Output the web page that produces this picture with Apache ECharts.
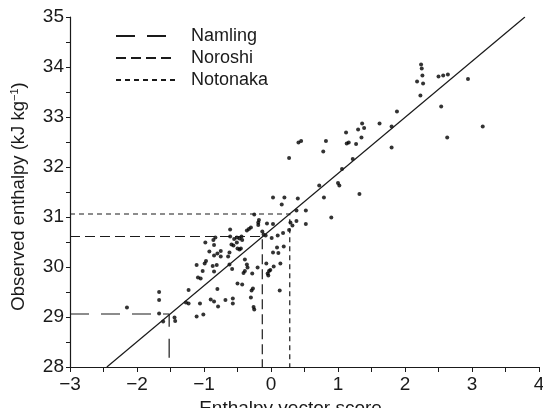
<!DOCTYPE html>
<html><head><meta charset="utf-8">
<script src="https://cdn.jsdelivr.net/npm/echarts@6/dist/echarts.min.js"></script>
<style>html,body{margin:0;padding:0;background:#fff}#c{width:543px;height:408px}</style>
</head><body><div id="c"></div>
<script>
const scoreX = [2.24,2.25,2.26,2.18,2.27,2.23,2.50,2.57,2.64,2.94,2.54,2.63,3.16,1.88,1.80,1.80,1.62,1.36,1.39,1.30,1.35,1.12,1.13,1.16,1.27,1.22,0.78,0.82,0.41,0.45,0.27,1.06,0.72,1.00,1.02,1.32,0.79,0.03,0.20,0.40,0.16,0.38,0.52,0.90,0.03,0.29,0.32,0.38,0.52,0.01,0.10,0.18,0.27,0.19,0.03,0.11,0.04,0.14,-0.01,0.13,-0.25,-0.18,-0.19,-0.19,-0.06,-0.33,-0.30,-0.36,-0.13,-0.08,-0.11,-0.51,-0.47,-0.44,-0.43,-0.50,-0.47,-0.45,0.09,-0.39,-0.36,-0.35,-0.39,-0.41,-0.28,-0.20,-0.07,-0.05,-0.03,-0.04,-0.50,-0.43,-0.27,-0.29,-0.30,-0.26,-0.25,-0.61,-0.83,-0.86,-0.98,-0.61,-0.55,-0.51,-0.85,-0.59,-0.75,-0.80,-0.85,-0.75,-0.92,-0.62,-0.64,-0.56,-0.97,-0.99,-1.11,-0.87,-0.81,-1.02,-0.85,-0.62,-0.58,-1.09,-1.05,-1.23,-0.80,-1.27,-1.23,-1.06,-0.90,-0.85,-0.68,-0.57,-0.57,-0.79,-1.01,-1.11,-1.67,-1.67,-1.67,-1.61,-1.44,-1.43,-2.15];
const enthalpyY = [34.05,33.97,33.83,33.71,33.67,33.43,33.81,33.83,33.85,33.76,33.21,32.59,32.81,33.11,32.81,32.39,32.87,32.87,32.78,32.75,32.59,32.69,32.47,32.49,32.46,32.16,32.31,32.52,32.49,32.52,32.18,31.96,31.63,31.68,31.63,31.46,31.39,31.39,31.39,31.37,31.25,31.13,31.13,30.99,30.86,30.89,30.83,30.92,30.86,30.58,30.63,30.68,30.74,30.41,30.29,30.28,30.01,30.07,29.94,29.53,31.05,30.94,30.89,30.84,30.87,30.76,30.79,30.73,30.71,30.63,30.65,30.59,30.57,30.61,30.54,30.37,30.35,30.37,30.39,30.15,30.05,29.99,29.92,29.88,29.87,29.99,30.07,29.87,29.92,29.83,29.67,29.65,29.57,29.53,29.39,29.20,29.15,30.75,30.59,30.54,30.49,30.61,30.56,30.49,30.44,30.45,30.32,30.27,30.23,30.21,30.31,30.29,30.21,30.43,30.12,30.07,30.04,30.02,30.04,29.92,29.91,30.05,29.96,29.79,29.77,29.54,29.56,29.29,29.27,29.27,29.35,29.31,29.34,29.37,29.27,29.21,29.05,29.01,29.50,29.34,29.07,28.91,28.99,28.92,29.19];
const fitX = [-2.45, 3.79];
const fitY = [28, 35];
const siteNames = ['Namling', 'Noroshi', 'Notonaka'];
const siteScore = [-1.52, -0.13, 0.28];
const siteEnthalpy = [29.06, 30.61, 31.06];
const xMin = -3, xMax = 4, yMin = 28, yMax = 35;

const dashes = [[19, 12], [10, 5], [5, 4]];
const ink = '#1a1a1a';
const font = 'Liberation Sans';

const siteSeries = siteNames.map((n, i) => ({
  name: n, type: 'line', symbol: 'none', silent: true,
  data: [[xMin, siteEnthalpy[i]], [siteScore[i], siteEnthalpy[i]], [siteScore[i], yMin]],
  lineStyle: { color: ink, width: 1.2, type: dashes[i] },
  itemStyle: { color: ink }
}));

const chart = echarts.init(document.getElementById('c'), null, { renderer: 'canvas' });
chart.setOption({
  animation: false,
  backgroundColor: '#fff',
  grid: { left: 70, right: 4, top: 17, bottom: 41, containLabel: false, outerBoundsMode: 'none' },
  legend: {
    data: siteNames, orient: 'vertical', left: 110, top: 22,
    itemWidth: 60, itemHeight: 18, itemGap: 4,
    itemStyle: { opacity: 0 },
    textStyle: { fontFamily: font, fontSize: 18, color: ink, padding: [0, 0, 0, 10] }
  },
  xAxis: {
    type: 'value', min: xMin, max: xMax, interval: 1,
    name: 'Enthalpy vector score', nameLocation: 'middle', nameGap: 26,
    nameTextStyle: { fontFamily: font, fontSize: 19, color: ink, padding: [0, 28, 0, 0] },
    axisLine: { onZero: false, lineStyle: { color: ink, width: 1.2 } },
    axisTick: { show: true, inside: false, length: 5, lineStyle: { color: ink } },
    minorTick: { show: true, splitNumber: 2, length: 5, lineStyle: { color: ink } },
    splitLine: { show: false },
    axisLabel: { fontFamily: font, fontSize: 19, color: ink, margin: 8,
      formatter: v => String(v).replace('-', '\u2212') }
  },
  yAxis: {
    type: 'value', min: yMin, max: yMax, interval: 1,
    name: 'Observed enthalpy (kJ kg{sup|\u22121})', nameLocation: 'middle', nameGap: 42,
    nameTextStyle: { fontFamily: font, fontSize: 18.5, color: ink, padding: [0, 9, 0, 0],
      rich: { sup: { fontFamily: font, fontSize: 11, color: ink, padding: [0, 0, 8, 0] } } },
    axisLine: { onZero: false, lineStyle: { color: ink, width: 1.2 } },
    axisTick: { show: true, inside: false, length: 4, lineStyle: { color: ink } },
    minorTick: { show: true, splitNumber: 2, length: 4, lineStyle: { color: ink } },
    splitLine: { show: false },
    axisLabel: { fontFamily: font, fontSize: 19, color: ink, margin: 6 }
  },
  series: [
    {
      name: 'fit', type: 'line', symbol: 'none', silent: true,
      data: fitX.map((x, i) => [x, fitY[i]]),
      lineStyle: { color: ink, width: 1.2 }
    },
    ...siteSeries,
    {
      name: 'points', type: 'scatter', symbol: 'circle', symbolSize: 4,
      data: scoreX.map((x, i) => [x, enthalpyY[i]]),
      itemStyle: { color: '#000' }
    }
  ]
});
</script>
</body></html>
